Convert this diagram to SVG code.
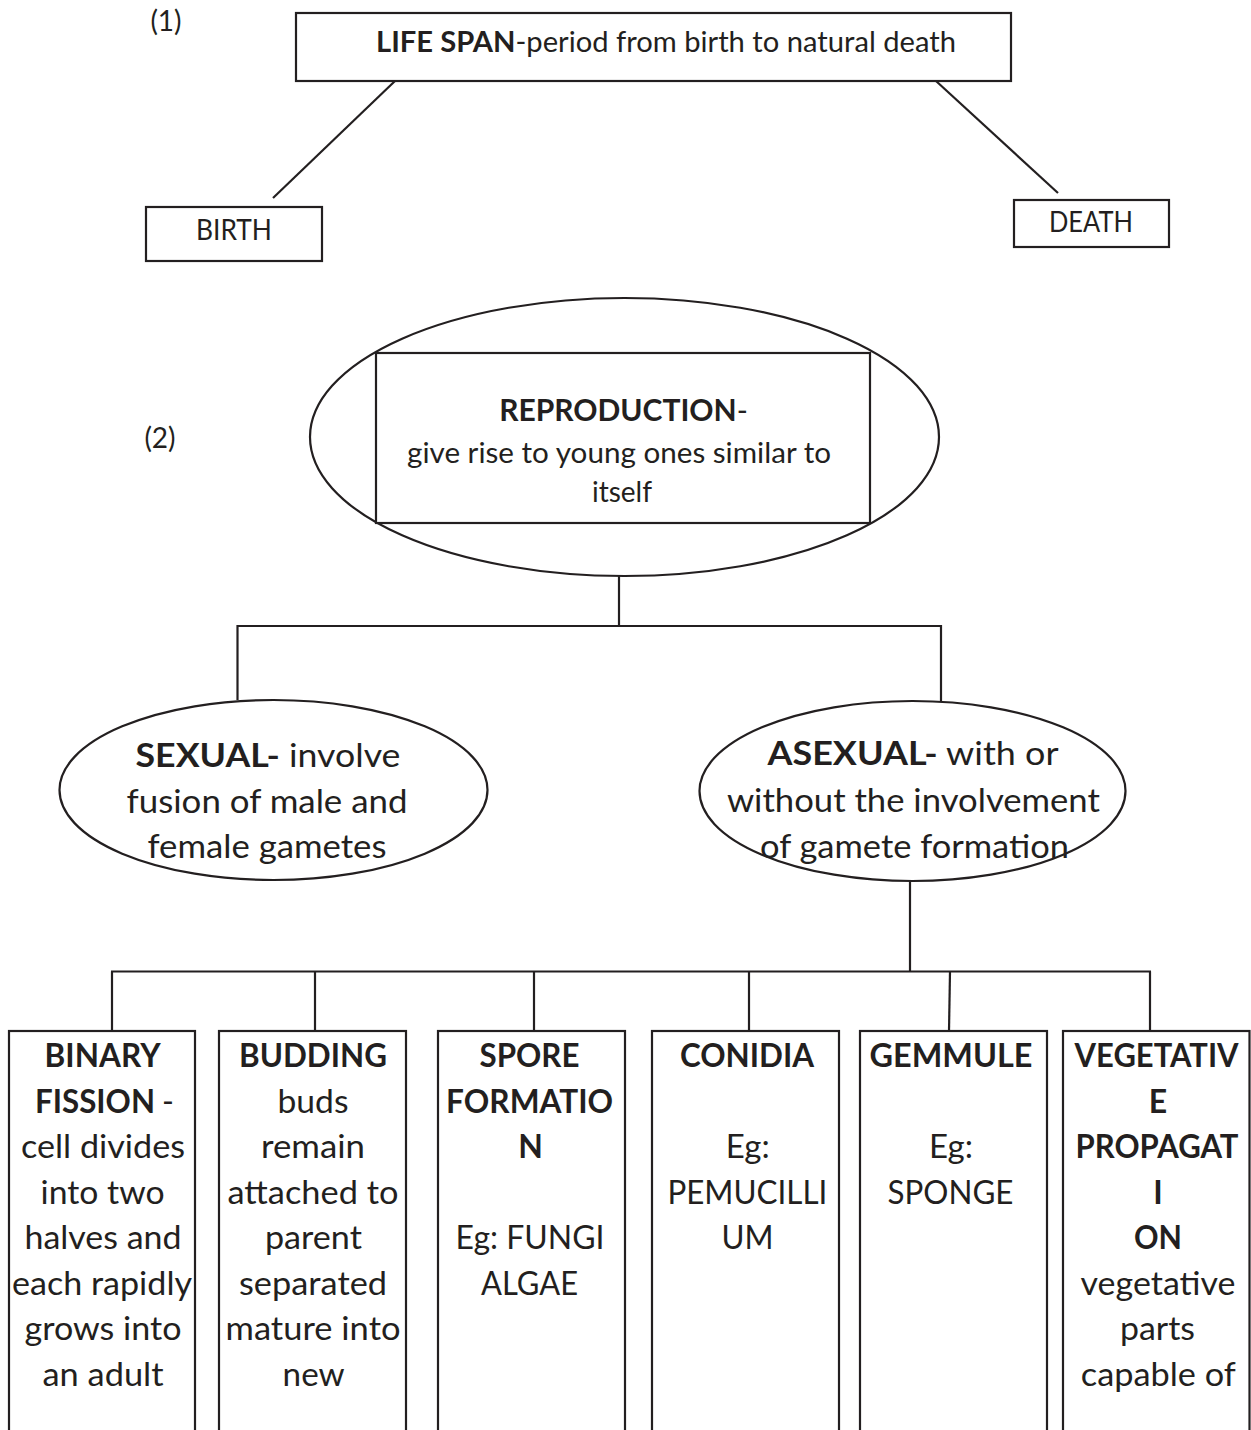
<svg xmlns="http://www.w3.org/2000/svg" width="1251" height="1430" viewBox="0 0 1251 1430">
<style>
  .shape { fill: #ffffff; stroke: #231f20; stroke-width: 2.2; }
  .conn { fill: none; stroke: #231f20; stroke-width: 2.2; }
  text { font-family: Lato, "Open Sans", "Liberation Sans", sans-serif; fill: #231f20; }
  .mid { text-anchor: middle; }
  .b { font-weight: 700; }
  .t28 { font-size: 28px; }
  .t30 { font-size: 30px; }
  .t32 { font-size: 32.5px; }
  .bx { font-size: 32px; text-anchor: middle; }
  .bxs { font-size: 32px; }
</style>
<rect width="1251" height="1430" fill="#ffffff"/>

<g id="connectors">
  <line class="conn" x1="395" y1="81" x2="273" y2="198"/>
  <line class="conn" x1="936" y1="81" x2="1058" y2="193"/>
  <line class="conn" x1="619" y1="576" x2="619" y2="626"/>
  <polyline class="conn" points="237.5,700 237.5,626 941,626 941,702"/>
  <line class="conn" x1="910" y1="881" x2="910" y2="971.5"/>
  <line class="conn" x1="111" y1="971.5" x2="1151" y2="971.5"/>
  <line class="conn" x1="112" y1="971.5" x2="112" y2="1031"/>
  <line class="conn" x1="315" y1="971.5" x2="315" y2="1031"/>
  <line class="conn" x1="534" y1="971.5" x2="534" y2="1031"/>
  <line class="conn" x1="749" y1="971.5" x2="749" y2="1031"/>
  <line class="conn" x1="950" y1="971.5" x2="949" y2="1031"/>
  <line class="conn" x1="1150" y1="971.5" x2="1150" y2="1031"/>
</g>

<g id="label-1">
  <text class="t28 mid" x="166" y="31">(1)</text>
</g>

<g id="node-lifespan">
  <rect class="shape" x="296" y="13" width="715" height="68"/>
  <text class="t28" x="376" y="52" textLength="580" lengthAdjust="spacingAndGlyphs"><tspan class="b">LIFE SPAN</tspan>-period from birth to natural death</text>
</g>

<g id="node-birth">
  <rect class="shape" x="146" y="207" width="176" height="54"/>
  <text class="t28 mid" x="234" y="240" textLength="76" lengthAdjust="spacingAndGlyphs">BIRTH</text>
</g>

<g id="node-death">
  <rect class="shape" x="1014" y="200" width="155" height="47"/>
  <text class="t28 mid" x="1091" y="232" textLength="84" lengthAdjust="spacingAndGlyphs">DEATH</text>
</g>

<g id="label-2">
  <text class="t28 mid" x="160" y="448">(2)</text>
</g>

<g id="node-reproduction">
  <ellipse class="shape" cx="624.5" cy="437" rx="314.5" ry="139"/>
  <rect class="shape" x="376" y="353" width="494" height="170"/>
  <text class="t30 mid" x="623.5" y="421"><tspan class="b">REPRODUCTION</tspan>-</text>
  <text class="t28 mid" x="619" y="463" textLength="424" lengthAdjust="spacingAndGlyphs">give rise to young ones similar to</text>
  <text class="t28 mid" x="622" y="502">itself</text>
</g>

<g id="node-sexual">
  <ellipse class="shape" cx="273.5" cy="790" rx="214" ry="90"/>
  <text class="t32 mid" x="268" y="767" textLength="265" lengthAdjust="spacingAndGlyphs"><tspan class="b">SEXUAL-</tspan> involve</text>
  <text class="t32 mid" x="267" y="813" textLength="281" lengthAdjust="spacingAndGlyphs">fusion of male and</text>
  <text class="t32 mid" x="267" y="858" textLength="239" lengthAdjust="spacingAndGlyphs">female gametes</text>
</g>

<g id="node-asexual">
  <ellipse class="shape" cx="912.5" cy="791" rx="213" ry="90"/>
  <text class="t32 mid" x="913" y="765" textLength="291" lengthAdjust="spacingAndGlyphs"><tspan class="b">ASEXUAL-</tspan> with or</text>
  <text class="t32 mid" x="913.4" y="812" textLength="373" lengthAdjust="spacingAndGlyphs">without the involvement</text>
  <text class="t32 mid" x="914.5" y="858" textLength="309" lengthAdjust="spacingAndGlyphs">of gamete formation</text>
</g>

<g id="node-binary-fission">
  <rect class="shape" x="9" y="1031" width="186" height="420"/>
  <text class="bx b" x="102.6" y="1067" textLength="116" lengthAdjust="spacingAndGlyphs">BINARY</text>
  <text class="bxs b" x="35" y="1113" textLength="120" lengthAdjust="spacingAndGlyphs">FISSION</text>
  <text class="bxs" x="162" y="1113">-</text>
  <text class="bx" x="103" y="1158" textLength="164" lengthAdjust="spacingAndGlyphs">cell divides</text>
  <text class="bx" x="102.6" y="1204" textLength="124" lengthAdjust="spacingAndGlyphs">into two</text>
  <text class="bx" x="103" y="1249" textLength="157" lengthAdjust="spacingAndGlyphs">halves and</text>
  <text class="bx" x="102" y="1295" textLength="180" lengthAdjust="spacingAndGlyphs">each rapidly</text>
  <text class="bx" x="103" y="1340" textLength="157" lengthAdjust="spacingAndGlyphs">grows into</text>
  <text class="bx" x="103" y="1386" textLength="121" lengthAdjust="spacingAndGlyphs">an adult</text>
</g>

<g id="node-budding">
  <rect class="shape" x="219" y="1031" width="187" height="420"/>
  <text class="bx b" x="313" y="1067" textLength="148" lengthAdjust="spacingAndGlyphs">BUDDING</text>
  <text class="bx" x="313" y="1113" textLength="71" lengthAdjust="spacingAndGlyphs">buds</text>
  <text class="bx" x="313" y="1158" textLength="104" lengthAdjust="spacingAndGlyphs">remain</text>
  <text class="bx" x="313" y="1204" textLength="171" lengthAdjust="spacingAndGlyphs">attached to</text>
  <text class="bx" x="313.4" y="1249" textLength="97" lengthAdjust="spacingAndGlyphs">parent</text>
  <text class="bx" x="313" y="1295" textLength="148" lengthAdjust="spacingAndGlyphs">separated</text>
  <text class="bx" x="313" y="1340" textLength="175" lengthAdjust="spacingAndGlyphs">mature into</text>
  <text class="bx" x="313.6" y="1386" textLength="62" lengthAdjust="spacingAndGlyphs">new</text>
</g>

<g id="node-spore-formation">
  <rect class="shape" x="438" y="1031" width="187" height="420"/>
  <text class="bx b" x="529.5" y="1067" textLength="100" lengthAdjust="spacingAndGlyphs">SPORE</text>
  <text class="bx b" x="529.6" y="1113" textLength="167" lengthAdjust="spacingAndGlyphs">FORMATIO</text>
  <text class="bx b" x="530.5" y="1158">N</text>
  <text class="bx" x="530" y="1249" textLength="149" lengthAdjust="spacingAndGlyphs">Eg: FUNGI</text>
  <text class="bx" x="529.5" y="1295" textLength="97" lengthAdjust="spacingAndGlyphs">ALGAE</text>
</g>

<g id="node-conidia">
  <rect class="shape" x="652" y="1031" width="187" height="420"/>
  <text class="bx b" x="747" y="1067" textLength="134" lengthAdjust="spacingAndGlyphs">CONIDIA</text>
  <text class="bx" x="747.7" y="1158" textLength="44" lengthAdjust="spacingAndGlyphs">Eg:</text>
  <text class="bx" x="747.4" y="1204" textLength="160" lengthAdjust="spacingAndGlyphs">PEMUCILLI</text>
  <text class="bx" x="747.5" y="1249" textLength="52" lengthAdjust="spacingAndGlyphs">UM</text>
</g>

<g id="node-gemmule">
  <rect class="shape" x="860" y="1031" width="187" height="420"/>
  <text class="bx b" x="951" y="1067" textLength="163" lengthAdjust="spacingAndGlyphs">GEMMULE</text>
  <text class="bx" x="951" y="1158" textLength="44" lengthAdjust="spacingAndGlyphs">Eg:</text>
  <text class="bx" x="950.5" y="1204" textLength="126" lengthAdjust="spacingAndGlyphs">SPONGE</text>
</g>

<g id="node-vegetative-propagation">
  <rect class="shape" x="1063" y="1031" width="186.5" height="420"/>
  <text class="bx b" x="1156.6" y="1067" textLength="164" lengthAdjust="spacingAndGlyphs">VEGETATIV</text>
  <text class="bx b" x="1158" y="1113">E</text>
  <text class="bx b" x="1157" y="1158" textLength="163" lengthAdjust="spacingAndGlyphs">PROPAGAT</text>
  <text class="bx b" x="1158" y="1204">I</text>
  <text class="bx b" x="1158" y="1249" textLength="48" lengthAdjust="spacingAndGlyphs">ON</text>
  <text class="bx" x="1158" y="1295" textLength="155" lengthAdjust="spacingAndGlyphs">vegetative</text>
  <text class="bx" x="1157.5" y="1340" textLength="75" lengthAdjust="spacingAndGlyphs">parts</text>
  <text class="bx" x="1158.3" y="1386" textLength="155" lengthAdjust="spacingAndGlyphs">capable of</text>
</g>
</svg>
